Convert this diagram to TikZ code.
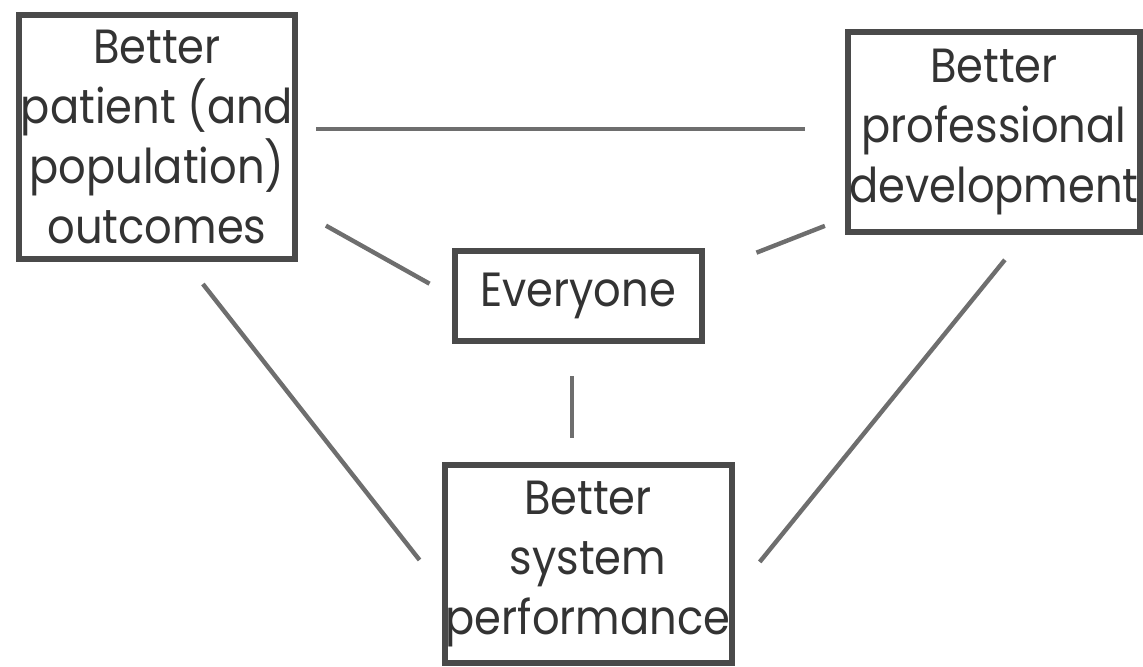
\documentclass[tikz,border=0pt]{standalone}
\usepackage{fontspec}
\setmainfont[FakeStretch=0.9]{Poppins}
\definecolor{boxc}{HTML}{4A4A4A}
\definecolor{linec}{HTML}{6E6E6E}
\definecolor{txtc}{HTML}{333333}
\begin{document}
\begin{tikzpicture}[x=0.5pt,y=-0.5pt,
  box/.style={draw=boxc, line width=3pt, fill=white, inner sep=0pt, align=center,
    text=txtc, font=\fontsize{24}{30}\selectfont},
  conn/.style={draw=linec, line width=2.2pt}]
\useasboundingbox (0,0) rectangle (1143,667);
\node[box, minimum width=138pt, minimum height=122pt] (tl) at (157,137) {Better\\patient (and\\population)\\outcomes};
\node[box, minimum width=146pt, minimum height=100pt] (tr) at (994,132) {Better\\professional\\development};
\node[box, minimum width=123.5pt, minimum height=45pt] (ev) at (578,296) {Everyone};
\node[box, minimum width=143.5pt, minimum height=99pt] (bot) at (588,564) {Better\\system\\performance};
\draw[conn, shorten <=9pt, shorten >=20pt] ([yshift=4pt]tl.east) -- ([yshift=4pt]tl.east -| tr.west);
\draw[conn, shorten <=16pt, shorten >=12.6pt] ([yshift=-36.5pt]tl.east) -- (ev.west);
\draw[conn, shorten <=10.8pt, shorten >=27.9pt] ([yshift=-43pt]tr.west) -- ([yshift=11.5pt]ev.east);
\draw[conn, shorten <=16pt, shorten >=12pt] ([xshift=-3pt]ev.south) -- ([xshift=-3pt]ev.south |- bot.north);
\draw[conn, shorten <=14pt, shorten >=17.8pt] ([xshift=14.3pt]tl.south) -- ([yshift=-12pt]bot.west);
\draw[conn, shorten <=16pt, shorten >=20pt] ([xshift=15.5pt]tr.south) -- ([yshift=-14.5pt]bot.east);
\end{tikzpicture}
\end{document}
